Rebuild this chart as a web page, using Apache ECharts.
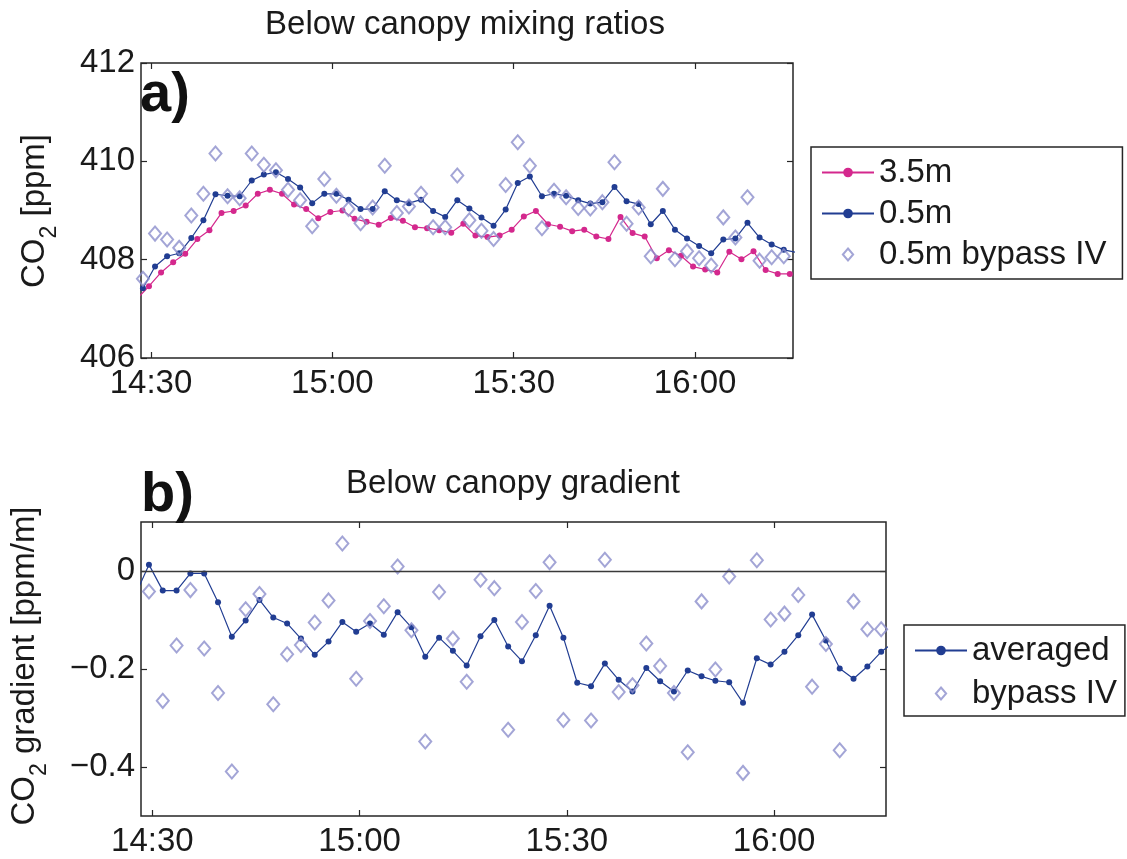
<!DOCTYPE html>
<html><head><meta charset="utf-8">
<script src="https://cdn.jsdelivr.net/npm/echarts@6/dist/echarts.min.js"></script>
<style>html,body{margin:0;padding:0;background:#fff}#c{width:1127px;height:859px}</style>
</head><body><div id="c"></div>
<script>
// ---- data (time in minutes after 14:00) ----
const tickMinutes = [30, 60, 90, 120];           // 14:30 15:00 15:30 16:00
const xRange = [28.35, 136.2];
const stepMin = 2;
const start05 = 28.67;      // 0.5 m and bypass samples
const start35 = 27.67;      // 3.5 m samples
const startAvg = 27.5;      // averaged gradient
const startGradBypass = 29.5;

const co2_35m = [407.2, 407.46, 407.74, 407.95, 408.12, 408.42, 408.60, 408.95, 408.99, 409.10,
  409.34, 409.42, 409.34, 409.12, 409.03, 408.84, 408.97, 409.00, 408.83, 408.77,
  408.71, 408.85, 408.79, 408.66, 408.64, 408.60, 408.55, 408.73, 408.49, 408.46,
  408.49, 408.61, 408.88, 408.99, 408.72, 408.67, 408.58, 408.61, 408.47, 408.42,
  408.87, 408.54, 408.47, 408.03, 408.19, 408.08, 407.86, 407.80, 407.74, 408.16,
  408.01, 408.17, 407.79, 407.71, 407.71];
const co2_05m = [407.42, 407.86, 408.07, 408.13, 408.44, 408.80, 409.33, 409.30, 409.29, 409.61,
  409.73, 409.78, 409.64, 409.47, 409.15, 409.34, 409.34, 409.22, 409.03, 409.03,
  409.39, 409.21, 409.15, 409.22, 408.99, 408.87, 409.21, 409.04, 408.86, 408.69,
  409.02, 409.56, 409.69, 409.29, 409.34, 409.30, 409.21, 409.14, 409.17, 409.48,
  409.19, 409.13, 408.72, 408.99, 408.61, 408.43, 408.28, 408.13, 408.41, 408.43,
  408.75, 408.45, 408.31, 408.20, 408.15];
const co2_05mBypass = [407.61, 408.53, 408.41, 408.24, 408.90, 409.34, 410.16, 409.29, 409.25, 410.16,
  409.93, 409.82, 409.42, 409.21, 408.68, 409.64, 409.30, 409.03, 408.74, 409.06,
  409.91, 408.95, 409.08, 409.34, 408.66, 408.66, 409.71, 408.80, 408.59, 408.42,
  409.52, 410.39, 409.91, 408.64, 409.40, 409.27, 409.05, 409.04, 409.17, 409.98,
  408.73, 409.06, 408.07, 409.44, 408.01, 408.17, 408.03, 407.88, 408.86, 408.45,
  409.27, 407.98, 408.05, 408.07];
const gradAveraged = [-0.05, 0.013, -0.040, -0.040, -0.005, -0.005, -0.064, -0.134, -0.101, -0.059, -0.095,
  -0.107, -0.138, -0.171, -0.144, -0.104, -0.124, -0.107, -0.130, -0.084, -0.115,
  -0.175, -0.136, -0.163, -0.193, -0.133, -0.100, -0.154, -0.184, -0.131, -0.071,
  -0.136, -0.228, -0.235, -0.189, -0.222, -0.246, -0.198, -0.225, -0.246, -0.203,
  -0.215, -0.224, -0.227, -0.269, -0.178, -0.191, -0.165, -0.131, -0.089, -0.142,
  -0.199, -0.220, -0.195, -0.165, -0.144];
const gradBypass = [-0.042, -0.265, -0.152, -0.039, -0.158, -0.249, -0.409, -0.078, -0.047, -0.272,
  -0.170, -0.151, -0.105, -0.060, 0.056, -0.220, -0.102, -0.072, 0.009, -0.121,
  -0.348, -0.043, -0.138, -0.226, -0.018, -0.035, -0.324, -0.104, -0.041, 0.018,
  -0.304, null, -0.305, 0.023, -0.247, -0.233, -0.148, -0.194, -0.249, -0.370,
  -0.062, -0.201, -0.011, -0.412, 0.022, -0.099, -0.087, -0.049, -0.236, -0.149,
  -0.366, -0.062, -0.119, -0.119];
const yTicksTop = [406, 408, 410, 412];
const yTicksBottom = [-0.4, -0.2, 0];

// ---- styles ----
const FONT = '"Liberation Sans", Arial, Helvetica, sans-serif';
const TXT = '#1a1a1a';
const AX = '#262626';
const PINK = '#d4288d';
const BLUE = '#213d92';
const LAV = '#8c8fcc';
const FS = 33;
const SUBFS = 23;
const DIAMOND_ICON = 'path://M6,0L12,7L6,14L0,7Z';

const pairs = (start, arr) => arr.map((v, i) => [start + i * stepMin, v]);
const fmtTime = m => { const h = 14 + Math.floor(m / 60); const mm = Math.round(m % 60); return h + ':' + (mm < 10 ? '0' : '') + mm; };
const fmtGrad = v => Math.abs(v) < 1e-9 ? '0' : (v < 0 ? '\u2212' : '') + Math.abs(v).toFixed(1);

function xAx(grid, pos, labels) {
  return {
    type: 'value', gridIndex: grid, position: pos, min: xRange[0], max: xRange[1],
    axisLine: { show: false, onZero: false },
    axisTick: { show: true, inside: true, length: 6, customValues: tickMinutes, lineStyle: { color: AX, width: 1.2 } },
    axisLabel: { show: labels, customValues: tickMinutes, formatter: fmtTime, fontSize: FS, color: TXT, fontFamily: FONT, margin: 9 },
    splitLine: { show: false }
  };
}
function yAx(grid, pos, labels, min, max, ticks, fmt) {
  return {
    type: 'value', gridIndex: grid, position: pos, min: min, max: max,
    axisLine: { show: false, onZero: false },
    axisTick: { show: true, inside: true, length: 6, customValues: ticks, lineStyle: { color: AX, width: 1.2 } },
    axisLabel: { show: labels, customValues: ticks, formatter: fmt, fontSize: FS, color: TXT, fontFamily: FONT, margin: 6 },
    splitLine: { show: false }
  };
}

// rotated axis title with a real subscript, built from measured text pieces
const mctx = document.createElement('canvas').getContext('2d');
function tw(text, size) { mctx.font = size + 'px ' + FONT; return mctx.measureText(text).width; }
function subTitle(cx, cy, pre, sub, post) {
  const w1 = tw(pre, FS), w2 = tw(sub, SUBFS), w3 = tw(post, FS);
  const x0 = -(w1 + w2 + w3) / 2;
  const st = (t, s) => ({ text: t, fontSize: s, fontFamily: FONT, fill: TXT, align: 'left', verticalAlign: 'middle' });
  return {
    type: 'group', x: cx, y: cy, rotation: Math.PI / 2,
    children: [
      { type: 'text', x: x0, y: 0, style: st(pre, FS) },
      { type: 'text', x: x0 + w1, y: 15, style: st(sub, SUBFS) },
      { type: 'text', x: x0 + w1 + w2, y: 0, style: st(post, FS) }
    ]
  };
}

const chart = echarts.init(document.getElementById('c'), null, { renderer: 'canvas' });
chart.setOption({
  animation: false,
  backgroundColor: '#fff',
  textStyle: { fontFamily: FONT },
  grid: [
    { left: 141, top: 63, width: 652, height: 295, show: true, borderColor: AX, borderWidth: 1.5, backgroundColor: 'transparent' },
    { left: 141, top: 522, width: 745, height: 294, show: true, borderColor: AX, borderWidth: 1.5, backgroundColor: 'transparent' }
  ],
  xAxis: [xAx(0, 'bottom', true), xAx(0, 'top', false), xAx(1, 'bottom', true), xAx(1, 'top', false)],
  yAxis: [
    yAx(0, 'left', true, 406, 412, yTicksTop, v => String(v)),
    yAx(0, 'right', false, 406, 412, yTicksTop, v => String(v)),
    yAx(1, 'left', true, -0.5, 0.1, yTicksBottom, fmtGrad),
    yAx(1, 'right', false, -0.5, 0.1, yTicksBottom, fmtGrad)
  ],
  legend: [
    {
      data: ['3.5m', '0.5m', { name: '0.5m bypass IV', icon: DIAMOND_ICON }], orient: 'vertical', left: 811, top: 147,
      itemWidth: 52, itemHeight: 12, itemGap: 8, itemTextGap: 6, padding: [9, 16, 8, 10],
      borderColor: AX, borderWidth: 1.5, borderRadius: 0, symbolKeepAspect: true,
      textStyle: { fontSize: FS, color: TXT, fontFamily: FONT, lineHeight: 32 }
    },
    {
      data: ['averaged', { name: 'bypass IV', icon: DIAMOND_ICON }], orient: 'vertical', left: 904, top: 625,
      itemWidth: 52, itemHeight: 12, itemGap: 10, itemTextGap: 6, padding: [9, 8, 6, 10],
      borderColor: AX, borderWidth: 1.5, borderRadius: 0, symbolKeepAspect: true,
      textStyle: { fontSize: FS, color: TXT, fontFamily: FONT, lineHeight: 32 }
    }
  ],
  graphic: [
    { type: 'text', x: 465, y: 25, style: { text: 'Below canopy mixing ratios', fontSize: FS, fontFamily: FONT, fill: TXT, align: 'center', verticalAlign: 'middle' } },
    { type: 'text', x: 513, y: 484, style: { text: 'Below canopy gradient', fontSize: FS, fontFamily: FONT, fill: TXT, align: 'center', verticalAlign: 'middle' } },
    { type: 'text', x: 140, y: 96, style: { text: 'a)', fontSize: 56, fontWeight: 'bold', fontFamily: FONT, fill: '#111', align: 'left', verticalAlign: 'middle' } },
    { type: 'text', x: 141, y: 496, style: { text: 'b)', fontSize: 56, fontWeight: 'bold', fontFamily: FONT, fill: '#111', align: 'left', verticalAlign: 'middle' } },
    subTitle(35, 211, 'CO', '2', ' [ppm]'),
    subTitle(25, 666, 'CO', '2', ' gradient [ppm/m]')
  ],
  series: [
    { name: '3.5m', type: 'line', xAxisIndex: 0, yAxisIndex: 0, data: pairs(start35, co2_35m),
      symbol: 'circle', symbolSize: 6, showSymbol: true, color: PINK,
      lineStyle: { color: PINK, width: 1.2 }, itemStyle: { color: PINK }, z: 2 },
    { name: '0.5m', type: 'line', xAxisIndex: 0, yAxisIndex: 0, data: pairs(start05, co2_05m),
      symbol: 'circle', symbolSize: 6, showSymbol: true, color: BLUE,
      lineStyle: { color: BLUE, width: 1.2 }, itemStyle: { color: BLUE }, z: 3 },
    { name: '0.5m bypass IV', type: 'scatter', xAxisIndex: 0, yAxisIndex: 0, data: pairs(start05, co2_05mBypass),
      symbol: 'diamond', symbolSize: [12, 14], color: LAV,
      itemStyle: { color: 'rgba(255,255,255,0)', borderColor: LAV, borderWidth: 2 }, z: 4 },
    { name: 'averaged', type: 'line', xAxisIndex: 2, yAxisIndex: 2, data: pairs(startAvg, gradAveraged),
      symbol: 'circle', symbolSize: 6, showSymbol: true, color: BLUE,
      lineStyle: { color: BLUE, width: 1.2 }, itemStyle: { color: BLUE }, z: 3,
      markLine: { silent: true, symbol: ['none', 'none'], label: { show: false },
        lineStyle: { color: '#3a3a3a', width: 1.3, type: 'solid' }, data: [{ yAxis: 0 }] } },
    { name: 'bypass IV', type: 'scatter', xAxisIndex: 2, yAxisIndex: 2, data: pairs(startGradBypass, gradBypass),
      symbol: 'diamond', symbolSize: [12, 14], color: LAV,
      itemStyle: { color: 'rgba(255,255,255,0)', borderColor: LAV, borderWidth: 2 }, z: 4 }
  ]
});
</script>
</body></html>
